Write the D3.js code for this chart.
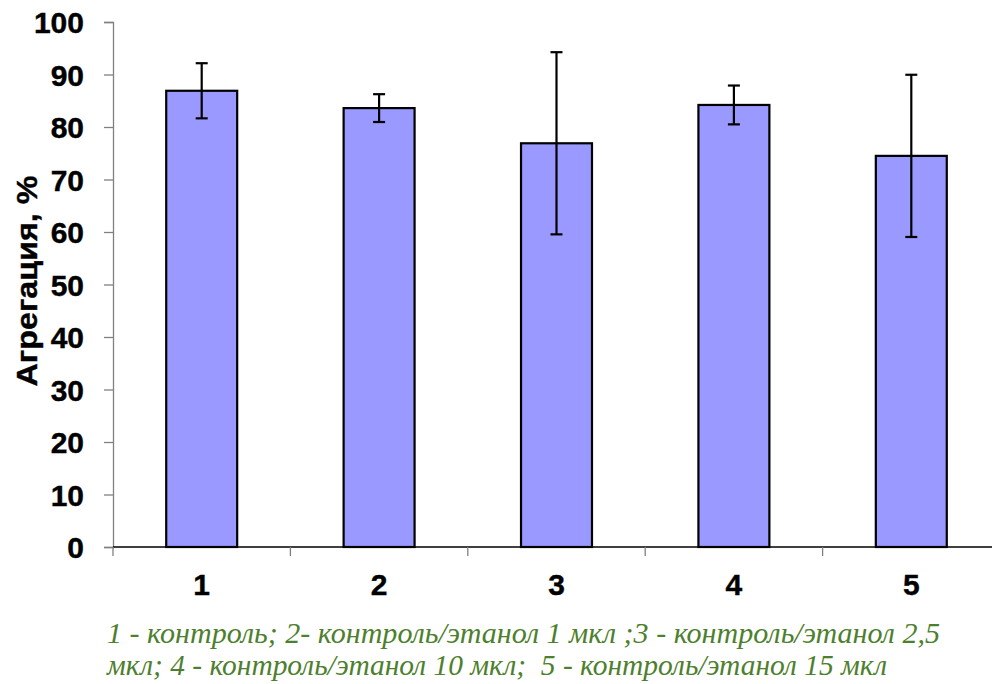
<!DOCTYPE html>
<html>
<head>
<meta charset="utf-8">
<script src="https://cdn.jsdelivr.net/npm/d3@7"></script>
<style>
  html, body { margin: 0; padding: 0; background: #fff; }
  svg { display: block; }
</style>
</head>
<body>
<script>
const categories = ["1", "2", "3", "4", "5"];
const values = [86.9, 83.6, 76.9, 84.2, 74.5];
const errors = [5.25, 2.65, 17.35, 3.7, 15.45];
const yTicks = [0, 10, 20, 30, 40, 50, 60, 70, 80, 90, 100];
const yTitle = "Агрегация, %";
const captionLines = [
  "1 - контроль; 2- контроль/этанол 1 мкл ;3 - контроль/этанол 2,5",
  "мкл; 4 - контроль/этанол 10 мкл;  5 - контроль/этанол 15 мкл"
];

const W = 992, H = 684;
const svg = d3.select("body").append("svg").attr("width", W).attr("height", H);

const x = d3.scaleBand().domain(categories).range([113, 1000]).paddingInner(0.6).paddingOuter(0.3);
const y = d3.scaleLinear().domain([0, 100]).range([547, 22]);

const sans = "Arial, 'Liberation Sans', sans-serif";

// y axis
const yAxis = svg.append("g").attr("transform", "translate(113,0)")
  .call(d3.axisLeft(y).tickValues(yTicks).tickSize(9).tickPadding(20).tickFormat(d3.format("d")));
yAxis.select(".domain").attr("stroke", "#808080").attr("stroke-width", 1.3);
yAxis.selectAll(".tick line").attr("stroke", "#808080").attr("stroke-width", 1.3);
yAxis.selectAll(".tick text").attr("font-family", sans)
  .attr("font-weight", "bold").attr("font-size", 30).attr("fill", "#000").attr("dy", "0.36em")
  .attr("stroke", "#000").attr("stroke-width", 0.4);

// x axis
const step = x.step();
const boundaries = d3.range(categories.length + 1).map(i => 113 + i * step);
const xAxis = svg.append("g");
xAxis.append("line").attr("x1", 113).attr("x2", 1000).attr("y1", y(0)).attr("y2", y(0))
  .attr("stroke", "#000").attr("stroke-width", 1.3);
xAxis.selectAll("line.tk").data(boundaries).join("line").attr("class", "tk")
  .attr("x1", d => d).attr("x2", d => d).attr("y1", y(0)).attr("y2", y(0) + 9)
  .attr("stroke", "#808080").attr("stroke-width", 1.3);
xAxis.selectAll("text").data(categories).join("text")
  .attr("x", d => x(d) + x.bandwidth() / 2).attr("y", 595)
  .attr("text-anchor", "middle")
  .attr("font-family", sans)
  .attr("font-weight", "bold").attr("font-size", 30)
  .attr("stroke", "#000").attr("stroke-width", 0.4).text(d => d);

// bars
svg.append("g").selectAll("rect").data(categories).join("rect")
  .attr("x", d => x(d)).attr("width", x.bandwidth())
  .attr("y", (d, i) => y(values[i])).attr("height", (d, i) => y(0) - y(values[i]))
  .attr("fill", "#9999FF").attr("stroke", "#000").attr("stroke-width", 2.2);

// error bars
const eg = svg.append("g").attr("stroke", "#000").attr("stroke-width", 2.2);
categories.forEach((c, i) => {
  const cx = x(c) + x.bandwidth() / 2;
  const hi = y(values[i] + errors[i]), lo = y(values[i] - errors[i]);
  eg.append("line").attr("x1", cx).attr("x2", cx).attr("y1", hi).attr("y2", lo);
  eg.append("line").attr("x1", cx - 6).attr("x2", cx + 6).attr("y1", hi).attr("y2", hi);
  eg.append("line").attr("x1", cx - 6).attr("x2", cx + 6).attr("y1", lo).attr("y2", lo);
});

// y title
svg.append("text").attr("transform", "translate(37,281) rotate(-90)")
  .attr("text-anchor", "middle")
  .attr("font-family", sans)
  .attr("font-weight", "bold").attr("font-size", 29)
  .attr("stroke", "#000").attr("stroke-width", 0.4)
  .attr("textLength", 211).attr("lengthAdjust", "spacingAndGlyphs")
  .text(yTitle);

// caption
const capY = [643, 675];
const capLen = [833, 780];
svg.append("g").selectAll("text").data(captionLines).join("text")
  .attr("x", 107).attr("y", (d, i) => capY[i])
  .attr("font-family", "'Liberation Serif', 'Times New Roman', serif")
  .attr("font-style", "italic").attr("font-size", 29).attr("fill", "#4E7F2E")
  .style("white-space", "pre")
  .attr("textLength", (d, i) => capLen[i]).attr("lengthAdjust", "spacingAndGlyphs")
  .text(d => d);
</script>
</body>
</html>
